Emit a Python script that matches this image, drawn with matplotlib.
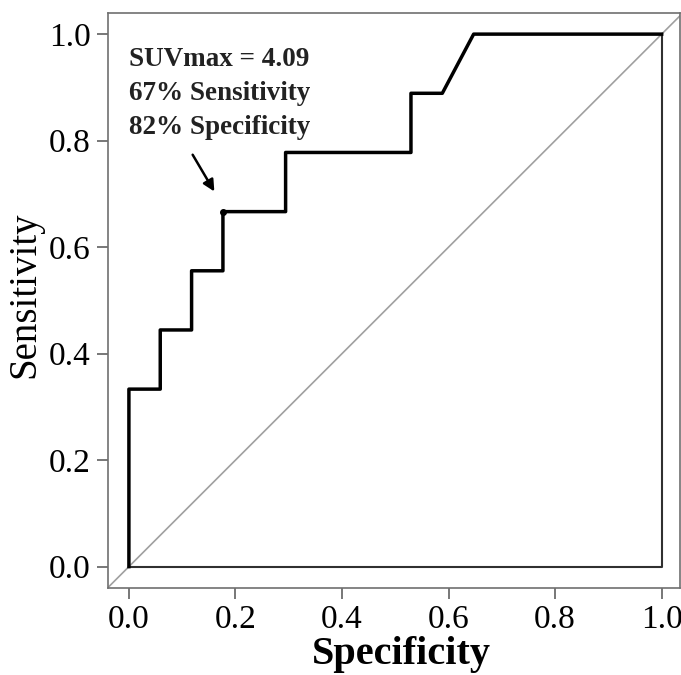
import matplotlib
matplotlib.use("Agg")
import matplotlib.pyplot as plt

# ==== Data ==== #
# ROC steps (x axis drawn as 1 - specificity, labelled "Specificity")
fpr = [0, 0, 1/17, 1/17, 2/17, 2/17, 3/17, 3/17, 5/17, 5/17, 9/17, 9/17, 10/17, 11/17, 1]
tpr = [0, 3/9, 3/9, 4/9, 4/9, 5/9, 5/9, 6/9, 6/9, 7/9, 7/9, 8/9, 8/9, 1, 1]
cut_point = (3/17, 6/9)
ticks = [0.0, 0.2, 0.4, 0.6, 0.8, 1.0]
note_lines = ["SUVmax = 4.09", "67% Sensitivity", "82% Specificity"]

plt.rcParams["font.family"] = ["Liberation Serif", "DejaVu Serif"]

fig = plt.figure(figsize=(6.81, 6.75), dpi=100)
ax = fig.add_axes([0.158, 0.129, 0.841, 0.852])

# diagonal reference line over the whole frame
ax.axline((0, 0), (1, 1), color="#a0a0a0", lw=1.2, zorder=1)

# closing edges of the ROC polygon
ax.plot([fpr[-1], 1, 0], [tpr[-1], 0, 0], color="#303030", lw=1.5, zorder=2)
ax.plot(fpr, tpr, color="black", lw=2.5, zorder=3)
ax.plot(*cut_point, "o", color="black", ms=4, zorder=4)

for i, line in enumerate(note_lines):
    ax.text(0.0, 0.941 - i * 0.064, line, fontsize=19.5, fontweight="bold",
            color="#222222", ha="left", va="baseline")

ax.annotate("", xy=(0.163, 0.70), xytext=(0.117, 0.778),
            arrowprops=dict(arrowstyle="-|>", color="black", lw=1.8,
                            mutation_scale=17))

ax.set_xlim(-0.04, 1.035)
ax.set_ylim(-0.04, 1.04)
ax.set_xticks(ticks)
ax.set_yticks(ticks)
ax.set_xticklabels([f"{t:.1f}" for t in ticks])
ax.set_yticklabels([f"{t:.1f}" for t in ticks])
ax.tick_params(labelsize=24, length=8, width=1.2, color="#606060", pad=4)
for sp in ax.spines.values():
    sp.set_color("#707070")
    sp.set_linewidth(1.2)

ax.set_xlabel("Specificity", fontsize=29, fontweight="bold")
ax.xaxis.set_label_coords(0.513, -0.083)
ax.set_ylabel("Sensitivity", fontsize=28)
ax.yaxis.set_label_coords(-0.113, 0.51)

fig.savefig("out.png", dpi=100)
